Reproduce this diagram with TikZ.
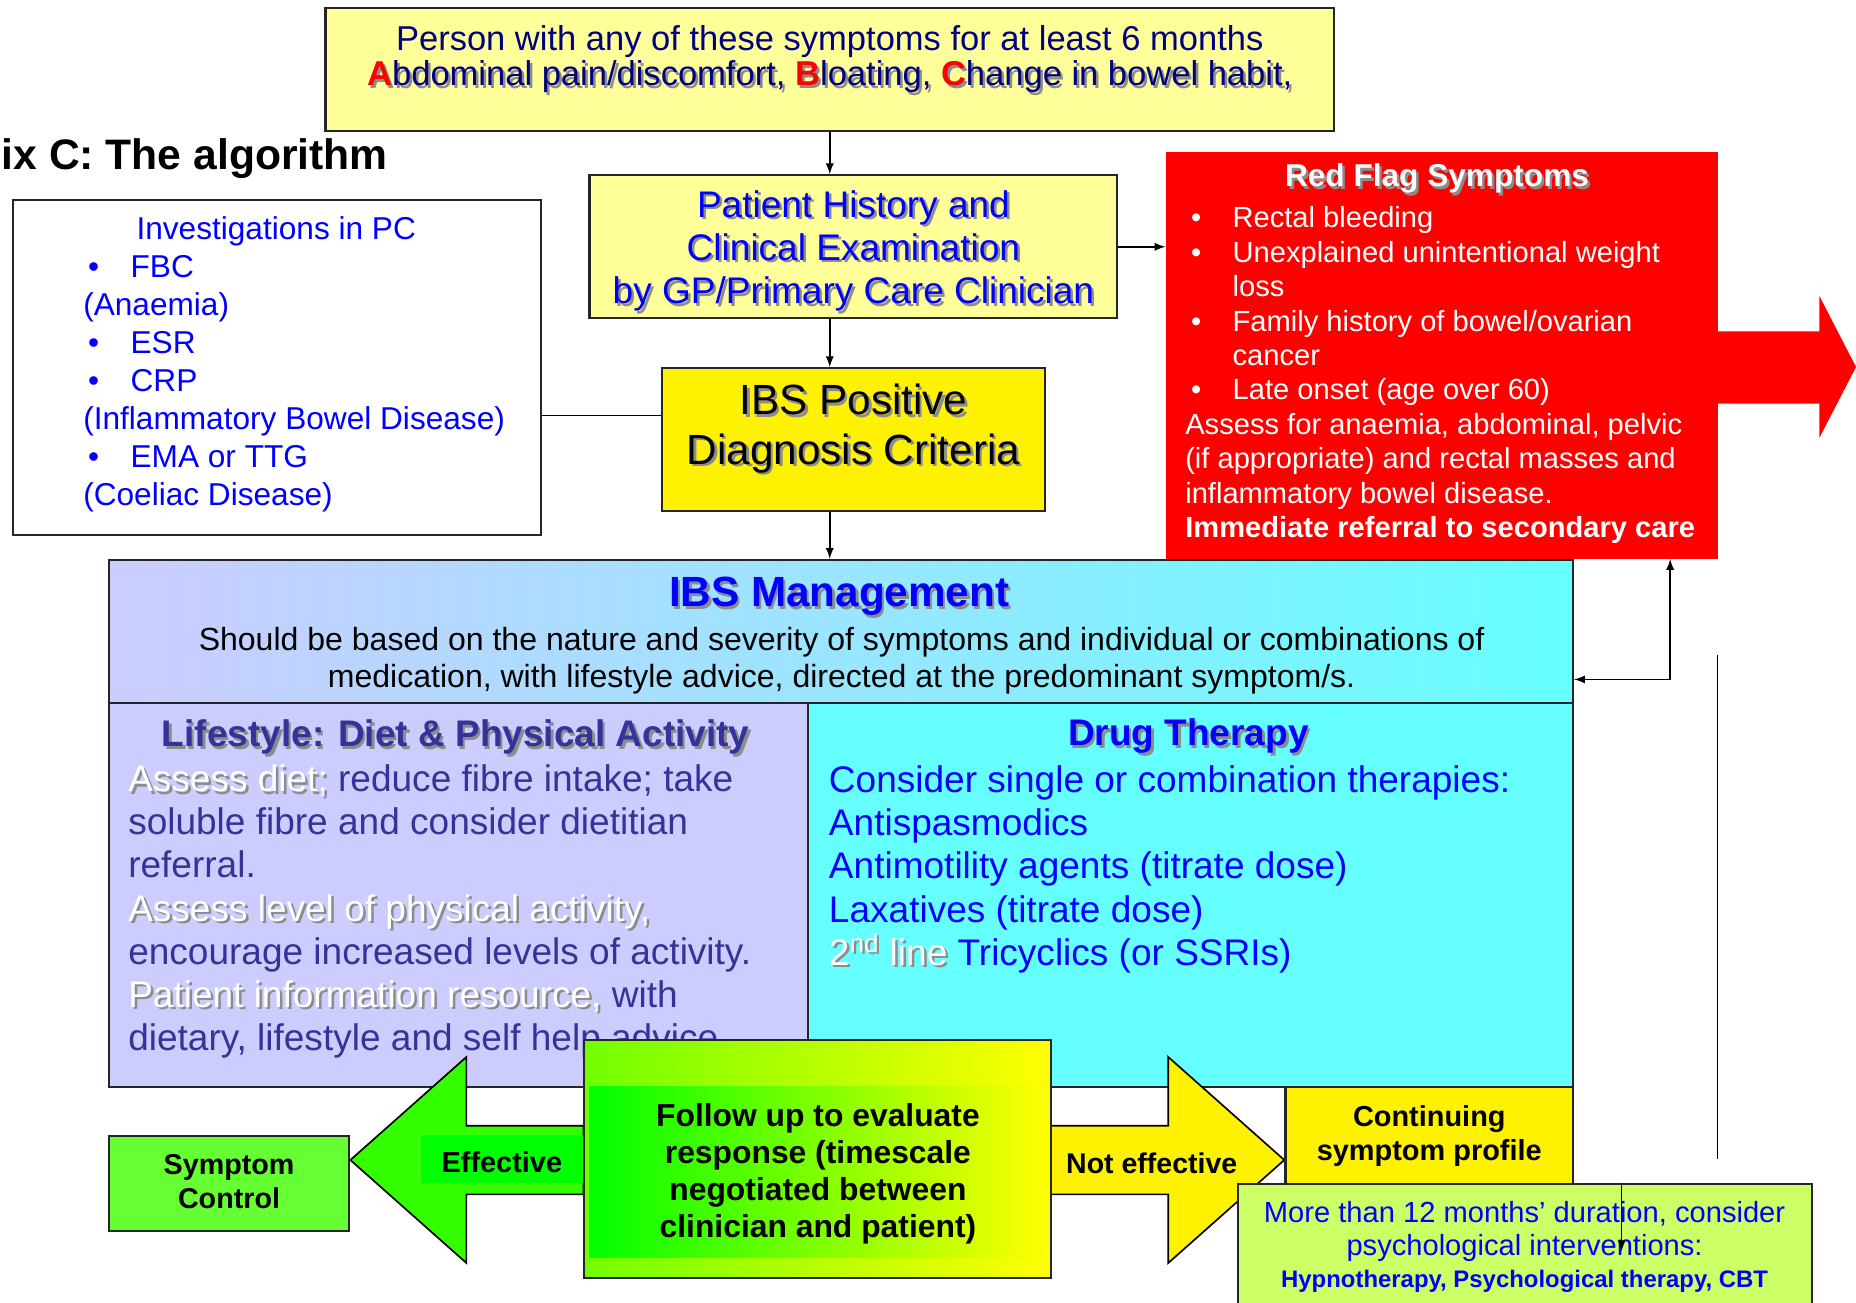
\documentclass[tikz,border=0pt]{standalone}
\usepackage{fontspec}
\setmainfont{Liberation Sans}
\usetikzlibrary{positioning}
\definecolor{paleyellow}{HTML}{FFFF99}
\definecolor{lavbox}{HTML}{CCCCFF}
\definecolor{cyanbox}{HTML}{66FFFF}
\definecolor{navytext}{HTML}{000080}
\definecolor{slatetext}{HTML}{333399}
\definecolor{limebox}{HTML}{CCFF66}
\definecolor{greenbox}{HTML}{66FF33}
\definecolor{greenarrow}{HTML}{33FF00}
\definecolor{chartr}{HTML}{70FF00}
\definecolor{shadowgray}{HTML}{8C8C8C}
\colorlet{hilitecol}{red}
\newcommand{\fsz}[2]{\fontsize{#1}{#2}\selectfont}
\newcommand{\hilite}[1]{\textcolor{hilitecol}{\textbf{#1}}}
\newcommand{\shtx}[3][shadowgray]{\leavevmode\rlap{\kern1.2pt\raisebox{-1.2pt}{\colorlet{hilitecol}{#1}\color{#1}#3}}{\color{#2}#3}}
\begin{document}
\begin{tikzpicture}[x=0.2mm,y=-0.2mm,
    box/.style={draw=black!85,line width=1pt,inner sep=0pt},
    arr/.style={-latex,line width=0.8pt}]
                \useasboundingbox (0,0) rectangle (1568,1100);
                \clip (0,0) rectangle (1568,1100);
                %% title
                \node[font=\bfseries\fsz{20.5}{24pt},anchor=east,inner sep=0pt] (title) at (328,134) {ix C: The algorithm};
                %% symptoms
                \node[box,fill=paleyellow,minimum width=170.4mm,minimum height=20.8mm] (sympt) at (701,59) {};
                \node[font=\fsz{16.6}{17pt},text=navytext,align=center] (symptxt) at (701,51) {Person with any of these symptoms for at least 6 months\\\shtx{navytext}{\hilite{A}bdominal pain/discomfort, \hilite{B}loating, \hilite{C}hange in bowel habit,}};
                %% history
                \node[box,fill=paleyellow,minimum width=89.2mm,minimum height=24.2mm] (hist) at (721,208.5) {};
                \node[font=\fsz{17.8}{20.7pt},align=center] (histtxt) at (721,213) {\shtx{blue}{Patient History and}\\\shtx{blue}{Clinical Examination}\\\shtx{blue}{by GP/Primary Care Clinician}};
                %% criteria
                \node[box,fill=yellow,minimum width=64.8mm,minimum height=24.2mm] (crit) at (721,371.5) {};
                \node[font=\fsz{20.3}{23.8pt},align=center] (crittxt) at (721,363) {\shtx{black}{IBS Positive}\\\shtx{black}{Diagnosis Criteria}};
                %% investigations
                \node[box,fill=white,minimum width=89.2mm,minimum height=56.6mm] (inv) at (234,310.5) {};
                \node[font=\fsz{15.2}{18.3pt},text=blue,align=left,anchor=west,inner sep=0pt] (invtxt) at (70,308) {\hspace*{9mm}Investigations in PC\\\hspace*{0.8mm}\makebox[7.2mm][l]{\textbullet}FBC\\(Anaemia)\\\hspace*{0.8mm}\makebox[7.2mm][l]{\textbullet}ESR\\\hspace*{0.8mm}\makebox[7.2mm][l]{\textbullet}CRP\\(Inflammatory Bowel Disease)\\\hspace*{0.8mm}\makebox[7.2mm][l]{\textbullet}EMA or TTG\\(Coeliac Disease)};
                %% red flags
                \node[fill=red,minimum width=93.2mm,minimum height=68.8mm,inner sep=0pt] (red) at (1218,300) {};
                \node[font=\bfseries\fsz{15.2}{18pt}] (redtitle) at (1214,152) {\shtx{white}{Red Flag Symptoms}};
                \node[font=\fsz{14}{16.55pt},text=white,align=left,anchor=west,inner sep=0pt] (redlist) at (1001,317) {\hspace*{1mm}\makebox[7mm][l]{\textbullet}Rectal bleeding\\\hspace*{1mm}\makebox[7mm][l]{\textbullet}Unexplained unintentional weight\\\hspace*{8mm}loss\\\hspace*{1mm}\makebox[7mm][l]{\textbullet}Family history of bowel/ovarian\\\hspace*{8mm}cancer\\\hspace*{1mm}\makebox[7mm][l]{\textbullet}Late onset (age over 60)\\Assess for anaemia, abdominal, pelvic\\(if appropriate) and rectal masses and\\inflammatory bowel disease.\\\textbf{Immediate referral to secondary care}};
                \fill[red] (1451,280) -- (1537,280) -- (1537,250) -- (1568,310) -- (1537,370) -- (1537,341) -- (1451,341) -- cycle;
                %% management
                \node[box,left color=lavbox,right color=cyanbox,minimum width=247.4mm,minimum height=24.2mm] (mgmt) at (710.5,533.5) {};
                \node[font=\bfseries\fsz{20.3}{24pt}] (mgmttitle) at (709,505) {\shtx{blue}{IBS Management}};
                \node[font=\fsz{15.4}{17.6pt},align=center] (mgmttxt) at (711,558) {Should be based on the nature and severity of symptoms and individual or combinations of\\medication, with lifestyle advice, directed at the predominant symptom/s.};
                %% lifestyle
                \node[box,fill=lavbox,minimum width=118.2mm,minimum height=64.8mm] (life) at (387.5,756) {};
                \node[font=\bfseries\fsz{17.8}{21pt}] (lifetitle) at (385,624) {\shtx{slatetext}{Lifestyle: Diet \& Physical Activity}};
                \node[font=\fsz{17.8}{20.7pt},text=slatetext,align=left,anchor=west,inner sep=0pt] (lifetxt) at (108,770) {\shtx{white}{Assess diet;} reduce fibre intake; take\\soluble fibre and consider dietitian\\referral.\\\shtx{white}{Assess level of physical activity,}\\encourage increased levels of activity.\\\shtx{white}{Patient information resource,} with\\dietary, lifestyle and self help advice};
                %% drugs
                \node[box,fill=cyanbox,minimum width=129.2mm,minimum height=64.8mm] (drug) at (1006,756) {};
                \node[font=\bfseries\fsz{17.8}{21pt}] (drugtitle) at (1004,623) {\shtx{blue}{Drug Therapy}};
                \node[font=\fsz{17.8}{20.7pt},text=blue,align=left,anchor=west,inner sep=0pt] (drugtxt) at (700,734.5) {Consider single or combination therapies:\\Antispasmodics\\Antimotility agents (titrate dose)\\Laxatives (titrate dose)\\\shtx{white}{2\textsuperscript{nd} line} Tricyclics (or SSRIs)};
                %% effective / not effective
                \draw[fill=greenarrow,line width=0.8pt] (296,980) -- (394,893) -- (394,951) -- (493,951) -- (493,1009) -- (394,1009) -- (394,1067) -- cycle;
                \node[fill=green,inner sep=0pt,minimum width=28.2mm,minimum height=8mm,font=\bfseries\fsz{13.9}{16pt}] (eff) at (426.5,979) {};
                \node[font=\bfseries\fsz{13.9}{16pt}] (efftxt) at (424,982) {Effective};
                \draw[fill=yellow,line width=0.8pt] (888,951) -- (987,951) -- (987,893) -- (1085,980) -- (987,1067) -- (987,1009) -- (888,1009) -- cycle;
                \node[font=\bfseries\fsz{13.7}{16pt}] (noteff) at (973,983) {Not effective};
                %% follow up
                \node[box,left color=chartr,right color=yellow,minimum width=79mm,minimum height=40.2mm] (fup) at (690.5,979.5) {};
                \node[left color=green,right color=yellow,minimum width=77.2mm,minimum height=28.8mm,inner sep=0pt] (fupbg) at (691,990) {};
                \node[font=\bfseries\fsz{15.3}{17.8pt},align=center] (fuptxt) at (691,992) {Follow up to evaluate\\response (timescale\\negotiated between\\clinician and patient)};
                %% outcomes
                \node[box,fill=greenbox,minimum width=40.6mm,minimum height=16mm] (sc) at (193.5,1000) {};
                \node[font=\bfseries\fsz{13.8}{16.5pt},align=center] (sctxt) at (193.5,998) {Symptom\\Control};
                \node[box,fill=yellow,minimum width=48.6mm,minimum height=16.4mm,font=\bfseries\fsz{13.9}{16.5pt},align=center] (cont) at (1207.5,959.5) {Continuing\\symptom profile};
                \node[box,fill=limebox,minimum width=97mm,minimum height=24mm] (psy) at (1288.5,1060) {};
                \node[font=\fsz{14}{15.6pt},text=blue,align=center] (psytxt) at (1288,1053.5) {More than 12 months’ duration, consider\\psychological interventions:\\{\bfseries\fsz{11.5}{15.6pt}Hypnotherapy, Psychological therapy, CBT}};
                %% connectors
                \draw[arr] (sympt.south) -- (sympt.south |- hist.north);
                \draw[arr] (sympt.south |- hist.south) -- (sympt.south |- crit.north);
                \draw[arr] (sympt.south |- crit.south) -- (sympt.south |- mgmt.north);
                \draw[arr] (hist.east) -- (hist.east -| red.west);
                \draw[line width=0.8pt] ([yshift=4.1mm]crit.west) -- ([yshift=4.1mm]crit.west -| inv.east);
                \coordinate (fb) at (1411,574);
                \draw[latex-latex,line width=0.8pt] (fb -| mgmt.east) -- (fb) -- (fb |- red.south);
                \coordinate (rl) at (1451,553);
                \coordinate (rlend) at (1451,979);
                \draw[line width=0.8pt] (rl) -- (rlend);
                \coordinate (pd) at (1370,1057);
                \draw[arr] (pd |- psy.north) -- (pd);
\end{tikzpicture}
\end{document}
